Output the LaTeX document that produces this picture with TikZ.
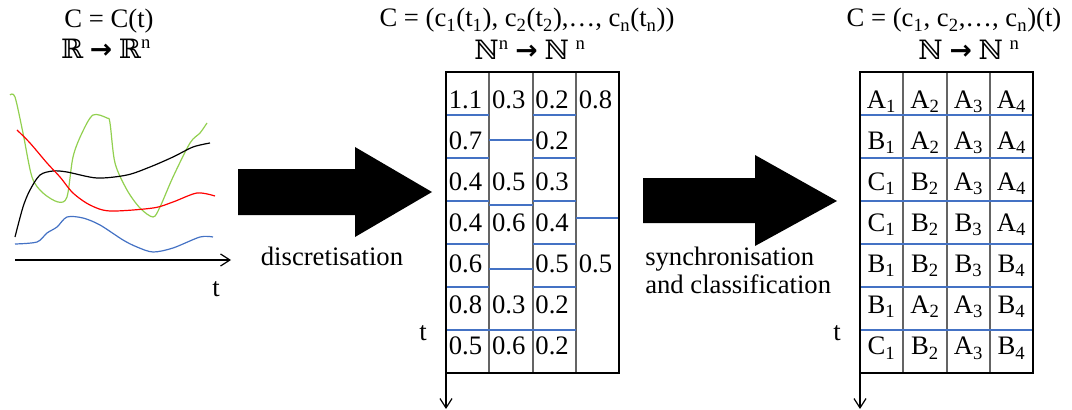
\documentclass[tikz,border=0pt]{standalone}
\usepackage{fontspec}
\setmainfont{Liberation Serif}
\newfontfamily\dsfont{DejaVu Serif}
\newfontfamily\arrfont{DejaVu Sans}
\usetikzlibrary{arrows.meta}
\definecolor{ruleblue}{RGB}{68,114,196}
\definecolor{curvegreen}{RGB}{146,208,80}
\definecolor{curveblue}{RGB}{68,114,196}
\definecolor{sepgray}{RGB}{100,100,100}
\newcommand{\dsN}{{\dsfont ℕ}}
\newcommand{\dsR}{{\dsfont ℝ}}
\newcommand{\bigto}{{\arrfont\bfseries →}}
\begin{document}
\begin{tikzpicture}[x=0.75pt,y=-0.75pt,
  txt/.style={inner sep=0pt, font=\fontsize{20}{24}\selectfont},
  frame/.style={draw=black, line width=2.2pt},
  sep/.style={draw=sepgray, line width=1pt},
  brule/.style={draw=ruleblue, line width=0.9pt},
  tarrow/.style={line width=0.9pt, -{Straight Barb[length=7pt,width=9pt]}},
  curve/.style={line width=0.9pt, smooth, tension=0.5}]
\useasboundingbox (0,0) rectangle (1072,410);

% headers
\node[txt, anchor=base] (hdl1) at (109,28) {C = C(t)};
\node[txt, anchor=base] (hdl2) at (106,59) {\dsR\ \bigto\ \dsR\textsuperscript{n}};
\node[txt, anchor=base] (hdm1) at (527,27) {C = (c\textsubscript{1}(t\textsubscript{1}), c\textsubscript{2}(t\textsubscript{2}),…, c\textsubscript{n}(t\textsubscript{n}))};
\node[txt, anchor=base] (hdm2) at (530,60) {\dsN\textsuperscript{n} \bigto\ \dsN\ \textsuperscript{n}};
\node[txt, anchor=base] (hdr1) at (954,27) {C = (c\textsubscript{1}, c\textsubscript{2},…, c\textsubscript{n})(t)};
\node[txt, anchor=base] (hdr2) at (969,60) {\dsN\ \bigto\ \dsN\ \textsuperscript{n}};

% continuous curves
\draw[curvegreen, curve] plot coordinates {(10,95) (15,97) (23,133) (32,177) (43,193) (58,202) (67,197) (73,157) (82,133) (93,115) (107,118) (110,123) (115,163) (127,190) (140,208) (153,217) (160,207) (173,177) (190,143) (200,133) (207,123)};
\draw[black, curve] plot coordinates {(15,237) (23,207) (30,190) (40,175) (53,171) (67,172) (97,178) (127,175) (150,167) (173,157) (193,147) (210,143)};
\draw[red, curve] plot coordinates {(17,130) (30,143) (47,163) (60,177) (73,193) (90,205) (110,211) (153,208) (173,202) (197,193) (215,196)};
\draw[curveblue, curve] plot coordinates {(15,244) (37,242) (47,233) (57,227) (67,217) (83,218) (100,225) (123,240) (137,247) (153,252) (173,248) (200,237) (213,237)};
\coordinate (lo) at (15,260);
\coordinate (lend) at (231,260);
\draw[tarrow] (lo) -- (lend);
\node[txt, anchor=base] (tl) at (216,296) {t};

% block arrows
\fill (238,169) -- (355,169) -- (355,147) -- (432,192) -- (355,237) -- (355,215) -- (238,215) -- cycle;
\node[txt, anchor=base] (lbd) at (332,265) {discretisation};
\fill (643,178) -- (755,178) -- (755,155) -- (837,201) -- (755,246) -- (755,223) -- (643,223) -- cycle;
\node[txt, anchor=base west] (lbs1) at (645,265) {synchronisation};
\node[txt, anchor=base west] (lbs2) at (645,293) {and classification};

% discrete table
\foreach \x in {489,533,576} \draw[sep] (\x,72) -- (\x,373);
\foreach \y in {115,158,201,244,287,330} {
  \draw[brule] (446,\y) -- (489,\y);
  \draw[brule] (533,\y) -- (576,\y);
}
\foreach \y in {140,205,269,330} \draw[brule] (489,\y) -- (533,\y);
\draw[brule] (576,218) -- (619,218);
\foreach \v [count=\r] in {1.1,0.7,0.4,0.4,0.6,0.8,0.5}
  \node[txt, anchor=base west] (ma-\r) at (448.5,108.3+41.1*\r-41.1) {\v};
\foreach \r/\v in {1/0.3,3/0.5,4/0.6,6/0.3,7/0.6}
  \node[txt, anchor=base west] (mb-\r) at (491.8,108.3+41.1*\r-41.1) {\v};
\foreach \v [count=\r] in {0.2,0.2,0.3,0.4,0.5,0.2,0.2}
  \node[txt, anchor=base west] (mc-\r) at (535.2,108.3+41.1*\r-41.1) {\v};
\foreach \r/\v in {1/0.8,5/0.5}
  \node[txt, anchor=base west] (md-\r) at (578.5,108.3+41.1*\r-41.1) {\v};
\draw[frame] (446,72) rectangle (619,373);
\coordinate (mo) at (446,373);
\coordinate (mend) at (446,409);
\draw[tarrow] (mo) -- (mend);
\node[txt, anchor=base] (tm) at (423,340) {t};

% classified table
\foreach \x in {903,947,990} \draw[sep] (\x,72) -- (\x,373);
\foreach \y in {115,158,201,244,287,330} \draw[brule] (860,\y) -- (1033,\y);
\foreach \a/\b/\c/\d [count=\r] in {A/A/A/A,B/A/A/A,C/B/A/A,C/B/B/A,B/B/B/B,B/A/A/B,C/B/A/B} {
  \node[txt, anchor=base] (ra-\r) at (881.5,108.3+41.1*\r-41.1) {\a\textsubscript{1}};
  \node[txt, anchor=base] (rb-\r) at (925,108.3+41.1*\r-41.1) {\b\textsubscript{2}};
  \node[txt, anchor=base] (rc-\r) at (968.5,108.3+41.1*\r-41.1) {\c\textsubscript{3}};
  \node[txt, anchor=base] (rd-\r) at (1011.5,108.3+41.1*\r-41.1) {\d\textsubscript{4}};
}
\draw[frame] (860,72) rectangle (1033,373);
\coordinate (ro) at (860,373);
\coordinate (rend) at (860,409);
\draw[tarrow] (ro) -- (rend);
\node[txt, anchor=base] (tr) at (837,340) {t};
\end{tikzpicture}
\end{document}
